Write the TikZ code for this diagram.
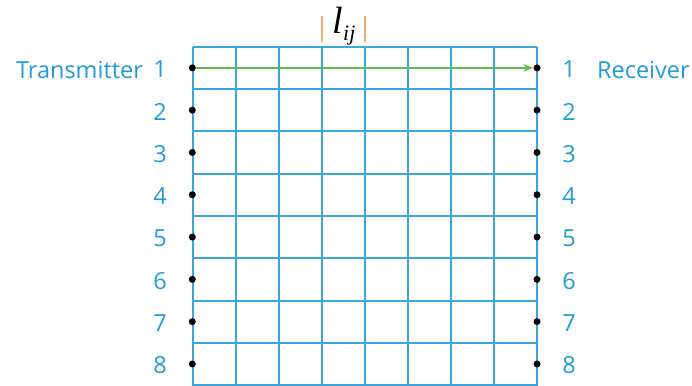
\documentclass[tikz,border=0pt]{standalone}
\usepackage{fontspec}
\setmainfont{Open Sans}
\newfontfamily\lijfont{Liberation Serif}
\usetikzlibrary{arrows.meta,positioning}

\definecolor{gridblue}{RGB}{60,165,220}
\definecolor{txtblue}{RGB}{35,155,215}
\definecolor{linkgreen}{RGB}{100,185,80}
\definecolor{barorange}{RGB}{248,168,115}

\begin{document}
\begin{tikzpicture}[
    x=1pt, y=-1pt,
    gridline/.style={draw=gridblue, line width=2pt},
    portdot/.style={circle, fill=black, inner sep=0pt, minimum size=7pt},
    lbl/.style={text=txtblue, inner sep=0pt, font=\fontsize{23.5}{27}\selectfont},
    bar/.style={draw=barorange, line width=1.8pt}
]
\useasboundingbox (0,0) rectangle (692,385);

% channel grid
\foreach \i in {0,...,8}
    \draw[gridline] (192.7+43*\i,46.7) -- (192.7+43*\i,386);
\foreach \j in {0,...,8}
    \draw[gridline] (192.7,46.7+42.3*\j) -- (536.7,46.7+42.3*\j);

% ports and numbers
\foreach \k in {1,...,8} {
    \node[portdot] (tx\k) at (192.3,46.7+42.3*\k-21.15) {};
    \node[portdot] (rx\k) at (537.0,46.7+42.3*\k-21.15) {};
    \node[lbl] (tn\k) at (160,46.7+42.3*\k-19.5) {\k};
    \node[lbl] (rn\k) at (569,46.7+42.3*\k-19.5) {\k};
}

\node[lbl, left=10pt of tn1] (tx_name) {Transmitter};
\node[lbl, right=21pt of rn1] (rx_name) {Receiver};

% |l_ij| above the grid
\coordinate (bar_l) at (322,16);
\coordinate (bar_r) at (365,16);
\draw[bar] (bar_l) -- ++(0,26);
\draw[bar] (bar_r) -- ++(0,26);
\node[inner sep=0pt, anchor=base, font=\lijfont\itshape\fontsize{38}{40}\selectfont] (lij) at (344,34)
    {l\raisebox{-7pt}{\fontsize{22}{22}\selectfont ij}};

\draw[draw=linkgreen, line width=1.5pt, -{Stealth[length=10pt,width=7.5pt]}] (tx1) -- (rx1);

\end{tikzpicture}
\end{document}
